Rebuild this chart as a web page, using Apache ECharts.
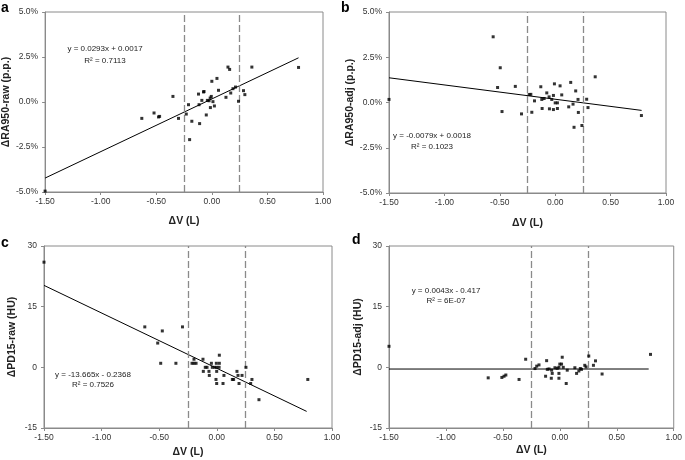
<!DOCTYPE html>
<html>
<head>
<meta charset="utf-8">
<script src="https://cdn.jsdelivr.net/npm/echarts@6/dist/echarts.min.js"></script>
<style>
html,body{margin:0;padding:0;background:#fff;}
#c{width:685px;height:460px;}
</style>
</head>
<body>
<div id="c"></div>
<script>
// ---- data ----
const xTicks = [-1.5, 1.0];
const thresholds = [-0.25, 0.25];
const panelLetters = ['a', 'b', 'c', 'd'];
const yNames = ['\u0394RA950-raw (p.p.)', '\u0394RA950-adj (p.p.)', '\u0394PD15-raw (HU)', '\u0394PD15-adj (HU)'];
const xName = '\u0394V (L)';

const aX = [-1.50, -0.63, -0.52, -0.48, -0.47, -0.35, -0.30, -0.23, -0.21, -0.18, -0.20, -0.12, -0.115, -0.11, -0.09, -0.075, -0.07, -0.05, -0.04, -0.025, -0.015, -0.005, 0.00, -0.013, 0.01, 0.023, 0.046, 0.06, 0.127, 0.145, 0.16, 0.17, 0.19, 0.213, 0.24, 0.285, 0.297, 0.36, 0.78];
const aY = [-4.95, -0.91, -0.61, -0.83, -0.80, 0.31, -0.91, -0.67, -0.15, -1.07, -2.09, 0.44, -0.15, -1.20, 0.09, 0.56, 0.58, -0.72, 0.09, 0.07, 0.22, 0.31, 1.15, -0.31, 0.02, -0.22, 1.31, 0.65, 0.26, 1.94, 1.81, 0.50, 0.74, 0.83, 0.04, 0.63, 0.41, 1.94, 1.92];

const bX = [-1.50, -0.56, -0.52, -0.496, -0.48, -0.36, -0.304, -0.235, -0.22, -0.211, -0.187, -0.13, -0.121, -0.118, -0.10, -0.076, -0.055, -0.052, -0.031, -0.016, -0.016, -0.007, 0.0, 0.02, 0.02, 0.044, 0.059, 0.122, 0.14, 0.161, 0.17, 0.185, 0.206, 0.209, 0.241, 0.284, 0.296, 0.361, 0.778];
const bY = [0.17, 3.63, 0.83, 1.92, -0.50, 0.89, -0.63, 0.44, 0.45, -0.54, 0.09, 0.87, 0.17, -0.33, 0.22, 0.53, 0.31, -0.35, 0.17, 0.39, -0.39, 1.03, -0.02, -0.02, -0.33, 0.92, 0.42, -0.24, 1.11, -0.09, -1.37, 0.64, 0.17, -0.55, -1.27, 0.18, -0.28, 1.42, -0.72];

const cX = [-1.50, -0.625, -0.513, -0.487, -0.473, -0.355, -0.298, -0.215, -0.198, -0.18, -0.198, -0.12, -0.117, -0.10, -0.085, -0.068, -0.065, -0.047, -0.039, -0.018, -0.004, 0.022, -0.001, 0.0, 0.02, 0.022, -0.007, -0.001, 0.054, 0.062, 0.135, 0.146, 0.175, 0.184, 0.193, 0.219, 0.253, 0.294, 0.305, 0.366, 0.79];
const cY = [26, 10, 6, 1, 9, 1, 10, 1, 1, 1, 2, 2, -1, 0, 0, -1, -2, 1, 0, 0, 1, 1, -1, 0, 0, 3, -3, -4, -4, -2, -3, -3, -1, -2, -4, -2, 0, -4, -3, -8, -3];

const dX = [-1.50, -0.629, -0.509, -0.49, -0.474, -0.358, -0.30, -0.218, -0.203, -0.183, -0.125, -0.116, -0.11, -0.095, -0.075, -0.072, -0.067, -0.043, -0.023, -0.008, -0.008, -0.008, 0.0, 0.015, 0.021, 0.03, 0.056, 0.065, 0.132, 0.147, 0.167, 0.18, 0.19, 0.219, 0.23, 0.254, 0.295, 0.313, 0.371, 0.796];
const dY = [5.2, -2.6, -2.5, -2.2, -1.9, -3.0, 2.0, -0.3, 0.3, 0.6, -2.2, 1.65, -0.5, -0.4, -2.7, -0.7, -1.5, -0.1, -0.25, 0.0, -1.5, -2.7, 0.8, 0.8, 2.5, 0.0, -4.0, -0.7, -0.1, -1.5, -0.9, -0.3, -0.5, 0.5, 0.1, 2.8, 0.5, 1.6, -1.65, 3.2];

// regression fits as printed on the chart (y in fraction for a/b -> shown as %)
const fitSlopes = [0.0293, -0.0079, -13.665, 0.0043];
const fitIntercepts = [0.0017, 0.0018, -0.2368, -0.417];
const fitScale = [100, 100, 1, 1];
const fitXRange = [-1.5, 0.78];
const eqTexts = ['y = 0.0293x + 0.0017', 'y = -0.0079x + 0.0018', 'y = -13.665x - 0.2368', 'y = 0.0043x - 0.417'];
const r2Texts = ['R\u00B2 = 0.7113', 'R\u00B2 = 0.1023', 'R\u00B2 = 0.7526', 'R\u00B2 = 6E-07'];

const yMinMax = [[-5, 5, 2.5], [-5, 5, 2.5], [-15, 30, 15], [-15, 30, 15]];
const xsAll = [aX, bX, cX, dX];
const ysAll = [aY, bY, cY, dY];

// ---- layout ----
const grids = [
  {left: 44, top: 12, width: 279, height: 180},
  {left: 389, top: 12, width: 277, height: 181},
  {left: 44, top: 246, width: 288, height: 182},
  {left: 389, top: 246, width: 286, height: 182}
];
const yNameGaps = [24, 27, 26, 25];
const xNameGaps = [24, 25, 19, 17];
const eqPos = [[105, 49, 61], [432, 136, 147], [93, 375, 385], [446, 291, 301]];
const letterPos = [[1, 1], [341, 1], [1, 236], [352, 233]];

const FONT = 'Liberation Sans, Arial, sans-serif';
const chart = echarts.init(document.getElementById('c'), null, {renderer: 'canvas'});

const xAxes = [], yAxes = [], series = [], graphics = [];
for (let i = 0; i < 4; i++) {
  const pct = i < 2;
  xAxes.push({
    type: 'value', gridIndex: i, min: xTicks[0], max: xTicks[1], interval: 0.5,
    name: xName, nameLocation: 'middle', nameGap: xNameGaps[i],
    nameTextStyle: {fontFamily: FONT, fontWeight: 'bold', fontSize: 10.5, color: '#222'},
    axisLine: {show: true, onZero: false, lineStyle: {color: '#8a8a8a', width: 1}},
    axisTick: {show: true, length: 3, lineStyle: {color: '#8a8a8a'}},
    splitLine: {show: false},
    axisLabel: {fontFamily: FONT, fontSize: 8.5, color: '#333', margin: 5,
      formatter: v => v.toFixed(2)}
  });
  yAxes.push({
    type: 'value', gridIndex: i, min: yMinMax[i][0], max: yMinMax[i][1], interval: yMinMax[i][2],
    name: yNames[i], nameLocation: 'middle', nameGap: yNameGaps[i], nameRotate: 90,
    nameTextStyle: {fontFamily: FONT, fontWeight: 'bold', fontSize: 10.5, color: '#222'},
    axisLine: {show: true, onZero: false, lineStyle: {color: '#8a8a8a', width: 1}},
    axisTick: {show: true, length: 3, lineStyle: {color: '#8a8a8a'}},
    splitLine: {show: false},
    axisLabel: {fontFamily: FONT, fontSize: 8.5, color: '#333', margin: 7,
      formatter: v => pct ? v.toFixed(1) + '%' : String(v)}
  });
  series.push({
    type: 'scatter', xAxisIndex: i, yAxisIndex: i,
    symbol: 'rect', symbolSize: 3,
    itemStyle: {color: '#000'},
    data: xsAll[i].map((x, k) => [x, ysAll[i][k]]),
    z: 5,
    markLine: {
      silent: true, symbol: 'none', label: {show: false},
      lineStyle: {type: [7, 3], color: '#8a8a8a', width: 1.3},
      data: thresholds.map(t => ({xAxis: t}))
    }
  });
  const f = x => (fitSlopes[i] * x + fitIntercepts[i]) * fitScale[i];
  series.push({
    type: 'line', xAxisIndex: i, yAxisIndex: i,
    showSymbol: false, symbol: 'none', silent: true,
    lineStyle: {color: '#000', width: 1},
    data: fitXRange.map(x => [x, f(x)]),
    z: 4
  });
  graphics.push({
    type: 'text', left: letterPos[i][0], top: letterPos[i][1],
    style: {text: panelLetters[i], font: 'bold 14px ' + FONT, fill: '#000'}
  });
  graphics.push({
    type: 'text', x: eqPos[i][0], y: eqPos[i][1],
    style: {text: eqTexts[i], font: '8px ' + FONT, fill: '#222', align: 'center', verticalAlign: 'middle'}
  });
  graphics.push({
    type: 'text', x: eqPos[i][0], y: eqPos[i][2],
    style: {text: r2Texts[i], font: '8px ' + FONT, fill: '#222', align: 'center', verticalAlign: 'middle'}
  });
}

chart.setOption({
  backgroundColor: '#fff',
  animation: false,
  grid: grids.map(g => Object.assign({show: true, borderColor: '#8a8a8a', borderWidth: 1, backgroundColor: '#fff'}, g)),
  xAxis: xAxes,
  yAxis: yAxes,
  series: series,
  graphic: graphics
});
</script>
</body>
</html>
